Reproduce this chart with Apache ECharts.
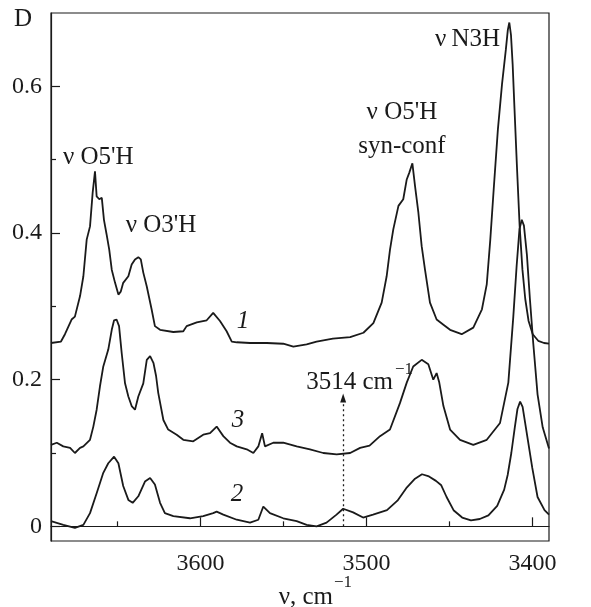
<!DOCTYPE html>
<html>
<head>
<meta charset="utf-8">
<script src="https://cdn.jsdelivr.net/npm/echarts@6/dist/echarts.min.js"></script>
<style>
  html, body { margin: 0; background: #fff; }
  #chart { width: 591px; height: 607px; }
</style>
</head>
<body>
<div id="chart"></div>
<script>
// spectrum 1 (top)
const nu1 = [3690, 3684.0, 3681.6, 3677.6, 3675.6, 3672.5, 3670.5, 3668.5, 3666.5, 3664.9,
  3663.5, 3662.5, 3660.9, 3659.4, 3658.1, 3656.5, 3654.9, 3653.4, 3651.4, 3649.4,
  3648.0, 3646.5, 3643.4, 3641.4, 3639.4, 3637.4, 3635.9, 3634.4, 3632.3, 3629.4,
  3627.4, 3624.3, 3616.3, 3610.3, 3608.3, 3602.2, 3596.2, 3592.3, 3588.2, 3584.2,
  3581.1, 3578.1, 3570.1, 3560.0, 3550.1, 3544.0, 3536.0, 3530.0, 3520.2, 3509.8,
  3501.8, 3495.8, 3490.8, 3487.8, 3485.8, 3483.8, 3480.7, 3477.8, 3475.7, 3474.2,
  3472.3, 3470.7, 3468.7, 3466.7, 3464.7, 3461.7, 3457.7, 3453.6, 3449.6, 3442.6,
  3435.6, 3430.4, 3427.5, 3425.4, 3423.3, 3420.8, 3418.3, 3416.0, 3414.8, 3413.9,
  3412.9, 3411.9, 3410.8, 3409.3, 3407.7, 3406.0, 3404.3, 3402.3, 3399.8, 3396.5,
  3393.0, 3390]
const d1 = [0.250, 0.252, 0.262, 0.282, 0.286, 0.314, 0.341, 0.391, 0.409, 0.455,
  0.484, 0.450, 0.446, 0.448, 0.418, 0.398, 0.377, 0.350, 0.332, 0.316,
  0.320, 0.332, 0.341, 0.357, 0.364, 0.367, 0.364, 0.346, 0.327, 0.296,
  0.273, 0.268, 0.265, 0.266, 0.273, 0.278, 0.281, 0.291, 0.280, 0.266,
  0.252, 0.251, 0.250, 0.250, 0.249, 0.245, 0.248, 0.252, 0.256, 0.258,
  0.264, 0.277, 0.305, 0.341, 0.377, 0.405, 0.437, 0.446, 0.473, 0.482,
  0.495, 0.464, 0.428, 0.382, 0.350, 0.305, 0.282, 0.275, 0.268, 0.262,
  0.271, 0.296, 0.330, 0.390, 0.460, 0.541, 0.603, 0.650, 0.677, 0.687,
  0.670, 0.630, 0.570, 0.490, 0.410, 0.350, 0.310, 0.280, 0.262, 0.253,
  0.250, 0.249]

// spectrum 3 (middle)
const nu3 = [3690, 3686.5, 3682.6, 3678.5, 3675.6, 3672.5, 3670.5, 3666.5, 3664.5, 3662.5,
  3660.5, 3658.5, 3655.5, 3653.4, 3652.0, 3650.5, 3649.0, 3647.4, 3645.4, 3643.4,
  3641.4, 3639.4, 3637.4, 3634.4, 3632.3, 3630.3, 3628.3, 3626.7, 3625.4, 3622.3,
  3619.4, 3614.3, 3610.3, 3604.3, 3598.3, 3594.2, 3590.2, 3586.2, 3582.2, 3578.1,
  3572.1, 3568.1, 3565.1, 3562.8, 3561.1, 3556.1, 3550.1, 3542.0, 3534.0, 3526.0,
  3517.9, 3509.8, 3503.8, 3498.1, 3491.8, 3485.8, 3479.8, 3475.7, 3471.8, 3466.7,
  3462.7, 3459.7, 3457.7, 3456.1, 3453.6, 3449.6, 3443.6, 3435.6, 3427.5, 3419.5,
  3414.5, 3411.5, 3409.5, 3407.8, 3406.4, 3405.1, 3403.3, 3401.5, 3399.5, 3396.9,
  3393.8, 3390]
const d3 = [0.111, 0.114, 0.109, 0.107, 0.100, 0.107, 0.109, 0.118, 0.136, 0.159,
  0.191, 0.218, 0.241, 0.268, 0.281, 0.282, 0.273, 0.236, 0.195, 0.177,
  0.164, 0.159, 0.177, 0.195, 0.227, 0.232, 0.223, 0.205, 0.182, 0.145,
  0.132, 0.125, 0.118, 0.116, 0.125, 0.127, 0.136, 0.123, 0.114, 0.109,
  0.105, 0.100, 0.109, 0.127, 0.109, 0.114, 0.114, 0.109, 0.105, 0.100,
  0.098, 0.100, 0.107, 0.110, 0.123, 0.132, 0.168, 0.196, 0.218, 0.227,
  0.221, 0.200, 0.209, 0.196, 0.164, 0.132, 0.118, 0.111, 0.118, 0.141,
  0.196, 0.286, 0.355, 0.405, 0.418, 0.410, 0.370, 0.310, 0.250, 0.180,
  0.135, 0.106]

// spectrum 2 (bottom)
const nu2 = [3690, 3682.6, 3675.6, 3670.5, 3666.5, 3662.5, 3658.5, 3655.5, 3652.0, 3649.4,
  3646.5, 3643.4, 3640.8, 3637.4, 3633.4, 3630.3, 3627.4, 3624.3, 3621.4, 3616.3,
  3606.3, 3598.3, 3592.3, 3590.2, 3586.2, 3578.1, 3570.1, 3565.1, 3562.1, 3558.1,
  3550.1, 3542.0, 3536.0, 3530.0, 3524, 3518, 3514, 3508, 3502, 3496,
  3487.6, 3481.3, 3476.0, 3470.7, 3466.5, 3462.3, 3458.1, 3454.9, 3451.7, 3447.5,
  3442.3, 3437.0, 3431.7, 3426.5, 3421.2, 3417.0, 3414.9, 3412.7, 3410.6, 3409.0,
  3407.4, 3405.9, 3404.3, 3402.2, 3400.1, 3396.9, 3392.7, 3390]
const d2 = [0.007, 0.002, -0.002, 0.002, 0.018, 0.045, 0.073, 0.086, 0.095, 0.086,
  0.055, 0.036, 0.032, 0.041, 0.061, 0.066, 0.057, 0.032, 0.018, 0.014,
  0.011, 0.014, 0.018, 0.020, 0.016, 0.009, 0.005, 0.009, 0.027, 0.018,
  0.011, 0.007, 0.002, 0.000, 0.005, 0.016, 0.024, 0.019, 0.012, 0.016,
  0.022, 0.035, 0.052, 0.065, 0.071, 0.068, 0.062, 0.056, 0.040, 0.022,
  0.012, 0.008, 0.010, 0.015, 0.028, 0.050, 0.070, 0.100, 0.135, 0.160,
  0.170, 0.163, 0.140, 0.110, 0.080, 0.040, 0.022, 0.016]

const xMajor = [3400, 3500, 3600]
const xMinor = [3450, 3550, 3650]
const yMajor = [0, 0.2, 0.4, 0.6]
const yMinor = [0.1, 0.3, 0.5]

// dotted arrow at 3514 cm-1
const arrowNu = 3514
const arrowSpan = [0, 0.175]

const ink = '#1a1a1a'
const serif = '"Liberation Serif", "DejaVu Serif", serif'
const pairs = ( xs, ys ) => xs.map( ( x, i ) => [x, ys[i]] )

const tickStyle = { color : ink, width : 1.2 }
const line = ( data ) => ( {
  type : 'line',
  data,
  showSymbol : false,
  symbol : 'none',
  lineStyle : { color : ink, width : 1.8 },
  silent : true,
  animation : false
} )

const chart = echarts.init( document.getElementById( 'chart' ) )
chart.setOption( {
  backgroundColor : '#fff',
  animation : false,
  grid : {
    left : 51, right : 42, top : 13, bottom : 66,
    show : true,
    borderColor : ink,
    borderWidth : 1.2
  },
  xAxis : [
    {
      type : 'value', min : 3390, max : 3690, inverse : true,
      axisLine : { lineStyle : tickStyle },
      axisTick : { inside : true, length : 9, customValues : xMajor, lineStyle : tickStyle },
      axisLabel : {
        customValues : xMajor, formatter : ( v ) => String( v ),
        fontFamily : serif, fontSize : 24, color : ink, margin : 11
      },
      splitLine : { show : false }
    },
    {
      type : 'value', min : 3390, max : 3690, inverse : true, position : 'bottom',
      axisLine : { show : false },
      axisTick : { inside : true, length : 5, customValues : xMinor, lineStyle : tickStyle },
      axisLabel : { show : false },
      splitLine : { show : false }
    }
  ],
  yAxis : [
    {
      type : 'value', min : -0.02, max : 0.7,
      axisLine : { show : true, lineStyle : tickStyle },
      axisTick : { show : true, inside : true, length : 9, customValues : yMajor, lineStyle : tickStyle },
      axisLabel : { customValues : yMajor, fontFamily : serif, fontSize : 24, color : ink, margin : 9 },
      splitLine : { show : false }
    },
    {
      type : 'value', min : -0.02, max : 0.7, position : 'left',
      axisLine : { show : false },
      axisTick : { show : true, inside : true, length : 5, customValues : yMinor, lineStyle : tickStyle },
      axisLabel : { show : false },
      splitLine : { show : false }
    }
  ],
  series : [
    line( pairs( nu1, d1 ) ),
    line( pairs( nu3, d3 ) ),
    Object.assign( line( pairs( nu2, d2 ) ), {
      markLine : {
        silent : true,
        animation : false,
        symbol : ['none', 'triangle'],
        symbolSize : [6, 9],
        label : { show : false },
        lineStyle : { type : [2, 3], color : ink, width : 1.3 },
        data : [[{ coord : [arrowNu, arrowSpan[0]] }, { coord : [arrowNu, arrowSpan[1]] }]]
      }
    } )
  ]
} )

// text annotations anchored in data coordinates
const at = ( nu, d ) => chart.convertToPixel( { xAxisIndex : 0, yAxisIndex : 0 }, [nu, d] )
const note = ( text, nu, d, opts = {} ) => {
  const [x, y] = at( nu, d )
  return {
    type : 'text', x, y, silent : true,
    style : Object.assign( {
      text, fill : ink, align : 'center', verticalAlign : 'middle',
      font : '25px ' + serif
    }, opts )
  }
}
const italic = { font : 'italic 25px ' + serif }
const sup = '17px ' + serif

chart.setOption( {
  graphic : [
    { type : 'text', x : 23, y : 19, style : { text : 'D', fill : ink, align : 'center', verticalAlign : 'middle', font : '25px ' + serif } },
    note( 'ν O5\'H', 3661.5, 0.503 ),
    note( 'ν O3\'H', 3623.7, 0.41 ),
    note( 'ν O5\'H', 3478.6, 0.564 ),
    note( 'syn-conf', 3478.6, 0.518 ),
    note( 'ν\u2009N3H', 3419.5, 0.664, { align : 'right' } ),
    note( '1', 3574.3, 0.279, italic ),
    note( '3', 3577.3, 0.145, italic ),
    note( '2', 3578, 0.044, italic ),
    note( '3514 cm', 3484, 0.196, { align : 'right' } ),
    note( '−1', 3482.8, 0.214, { align : 'left', font : sup } ),
    { type : 'text', x : 333, y : 597, style : { text : 'ν, cm', fill : ink, align : 'right', verticalAlign : 'middle', font : '25px ' + serif } },
    { type : 'text', x : 334, y : 583, style : { text : '−1', fill : ink, align : 'left', verticalAlign : 'middle', font : sup } }
  ]
} )
</script>
</body>
</html>
